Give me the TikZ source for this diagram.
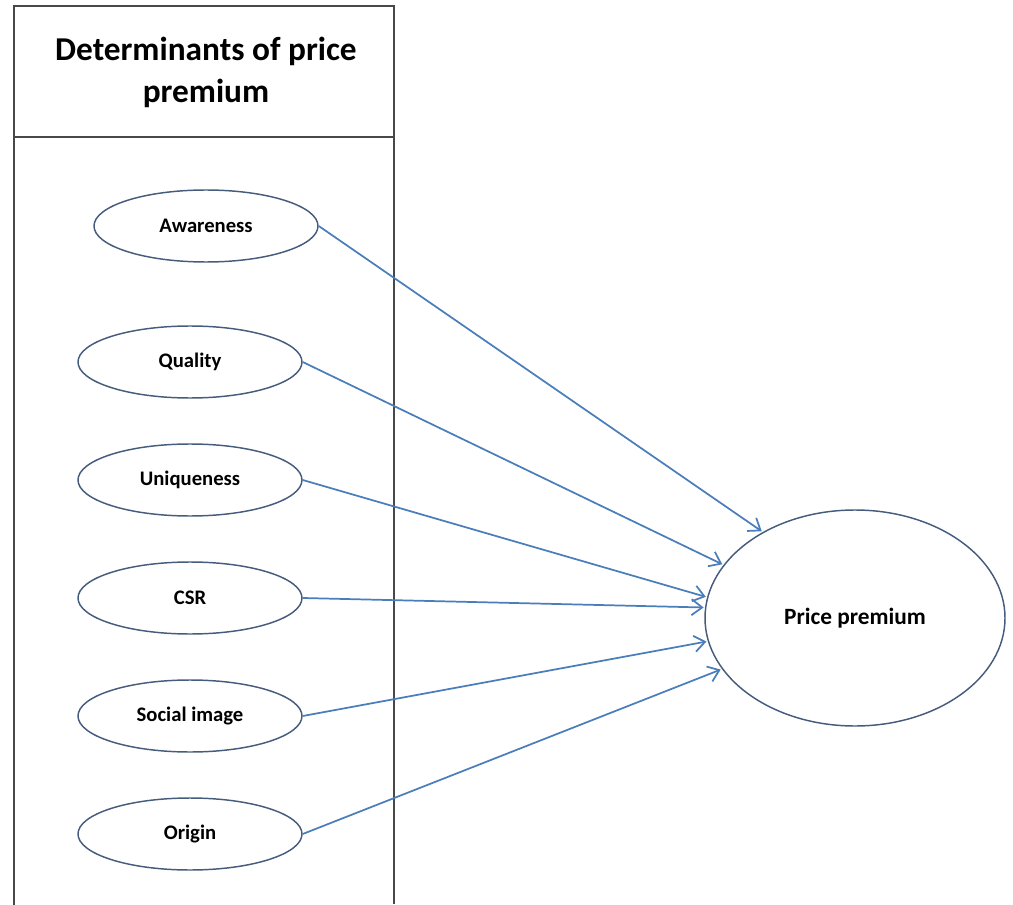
\documentclass[tikz,border=0pt]{standalone}
\usepackage{fontspec}
\setmainfont{Carlito}
\usetikzlibrary{shapes.geometric,positioning,arrows.meta}
\definecolor{linkblue}{RGB}{74,126,187}
\definecolor{rimblue}{RGB}{70,92,124}
\definecolor{boxgray}{RGB}{72,72,72}

\begin{document}
\begin{tikzpicture}[x=0.75pt,y=-0.75pt,shorten >=1pt,node distance=88.5pt,on grid,
    det/.style={ellipse,draw=rimblue,line width=1.1pt,minimum width=168pt,minimum height=54pt,inner sep=0pt,font=\bfseries\fontsize{15.5}{18}\selectfont},
    outcome/.style={ellipse,draw=rimblue,line width=1.1pt,minimum width=225pt,minimum height=162pt,inner sep=0pt,font=\bfseries\fontsize{17.5}{21}\selectfont},
    link/.style={linkblue,line width=1.3pt,-{Straight Barb[length=8pt,width=12pt]}}]
    \useasboundingbox (0,0) rectangle (1013,905);
    % box with its header
    \draw[boxgray,line width=1.3pt] (14,905) -- (14,6) -- (394,6) -- (394,905);
    \draw[boxgray,line width=1.3pt] (14,137) -- (394,137);
    \node[align=center,font=\bfseries\fontsize{25}{31.5}\selectfont] (hd) at (206,72) {Determinants of price\\premium};
    % determinants
    \node[det] (d_1) at (206,226) {Awareness};
    \node[det] (d_2) at (190,362) {Quality};
    \node[det] (d_3) [below=of d_2] {Uniqueness};
    \node[det] (d_4) [below=of d_3] {CSR};
    \node[det] (d_5) [below=of d_4] {Social image};
    \node[det] (d_6) [below=of d_5] {Origin};
    \node[outcome] (p_0) at (855,618) {Price premium};
    \path[link]
          (d_1.east) edge (p_0.137)
          (d_2.east) edge (p_0.158)
          (d_3.east) edge (p_0.172)
          (d_4.east) edge (p_0.176)
          (d_5.east) edge (p_0.189)
          (d_6.east) edge (p_0.201);
\end{tikzpicture}
\end{document}
